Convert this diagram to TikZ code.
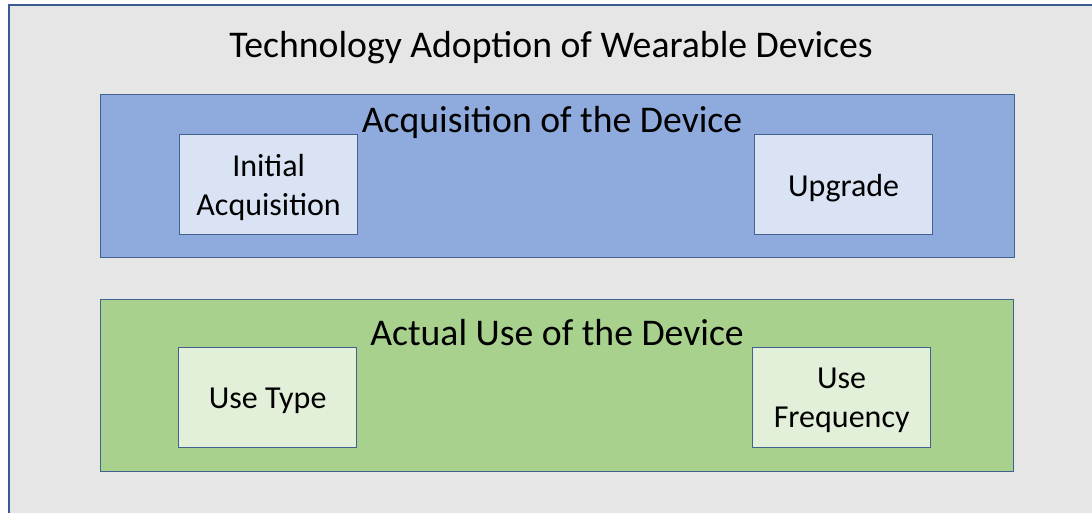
\documentclass[tikz,border=0pt]{standalone}
\usepackage{fontspec}
\setmainfont{Carlito}
\definecolor{canvas}{HTML}{E7E6E6}
\definecolor{frameline}{HTML}{3B5A92}
\definecolor{edge}{HTML}{41628F}
\definecolor{bluepanel}{HTML}{8FAADC}
\definecolor{bluecard}{HTML}{DAE3F3}
\definecolor{greenpanel}{HTML}{A9D18E}
\definecolor{greencard}{HTML}{E2F0D9}
\tikzset{
  panel/.style={draw=edge, line width=1.3pt, rectangle, inner sep=0pt, anchor=north west},
  card/.style={draw=edge, line width=1.3pt, rectangle, inner sep=0pt, anchor=north west,
               minimum width=178pt, minimum height=100pt},
  cardtext/.style={align=center, inner sep=0pt, font=\fontsize{32}{39}\selectfont, text=black},
  heading/.style={font=\fontsize{37.7}{44}\selectfont, text=black},
}
\begin{document}
\begin{tikzpicture}[x=1pt, y=-1pt]
  \useasboundingbox (0,0) rectangle (1092,513);
  \fill[white] (0,0) rectangle (1092,513);
  \fill[canvas] (8.5,5.5) rectangle (1092,513);
  \draw[frameline, line width=2pt] (8.5,520) -- (8.5,5.5) -- (1100,5.5);

  \node[heading] (title) at (551,48) {Technology Adoption of Wearable Devices};

  % acquisition panel
  \node[panel, fill=bluepanel, minimum width=914pt, minimum height=163pt] (acq) at (100,94) {};
  \node[heading] (acqtitle) at (552,122) {Acquisition of the Device};
  \node[card, fill=bluecard] (initial) at (179,134) {};
  \node[card, fill=bluecard] (upgrade) at (754,134) {};
  \node[cardtext] (initialtext) at ([yshift=-3pt]initial.center) {Initial\\Acquisition};
  \node[cardtext] (upgradetext) at ([yshift=-3pt]upgrade.center) {Upgrade};

  % use panel
  \node[panel, fill=greenpanel, minimum width=913pt, minimum height=172pt] (use) at (100,299) {};
  \node[heading] (usetitle) at (557,333) {Actual Use of the Device};
  \node[card, fill=greencard] (usetype) at (178,347) {};
  \node[card, fill=greencard] (usefreq) at (752,347) {};
  \node[cardtext] (usetypetext) at ([yshift=-3pt]usetype.center) {Use Type};
  \node[cardtext] (usefreqtext) at ([yshift=-3pt]usefreq.center) {Use\\Frequency};
\end{tikzpicture}
\end{document}
